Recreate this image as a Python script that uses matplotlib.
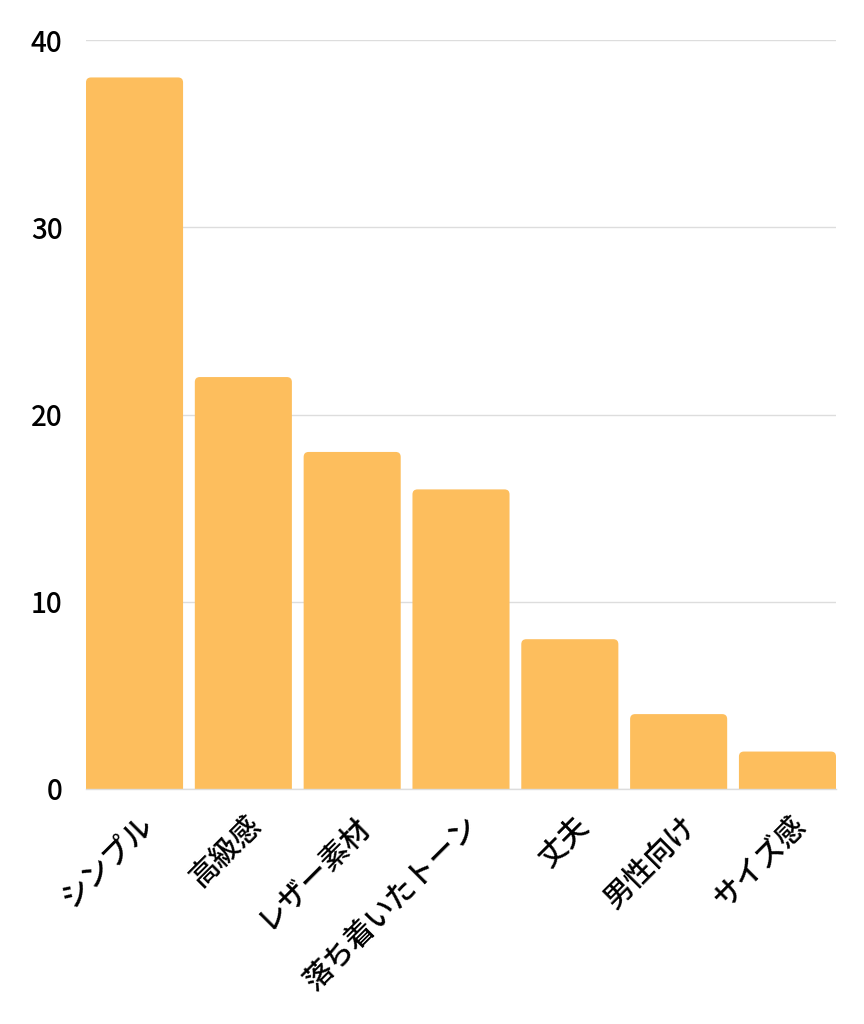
import matplotlib
matplotlib.use("Agg")
import matplotlib.pyplot as plt
import matplotlib.transforms as mtrans
from matplotlib.patches import FancyBboxPatch

plt.rcParams['font.family'] = ['Noto Sans CJK JP', 'DejaVu Sans']
plt.rcParams['font.weight'] = 'medium'

categories = ['シンプル', '高級感', 'レザー素材', '落ち着いたトーン', '丈夫', '男性向け', 'サイズ感']
values = [38, 22, 18, 16, 8, 4, 2]
yticks = [0, 10, 20, 30, 40]

bar_color = '#FDBE5D'
bar_w = 0.892

fig = plt.figure(figsize=(8.64, 10.24), dpi=100)
# plot area: x 86..836 px, y 40..789 px
ax = fig.add_axes([86 / 864, 1 - 789 / 1024, 750 / 864, 749 / 1024])

n = len(categories)
bars = ax.bar(range(n), values, width=bar_w, color='none')
ax.set_xlim(-bar_w / 2, n - 1 + bar_w / 2)
ax.set_ylim(0, 40)

# rounded tops: replace each bar with a fancy box, bottom pushed below 0 and clipped
px_x = 750 / (n - 1 + bar_w)
px_y = 749 / 40
for b in bars:
    x, w, h = b.get_x(), b.get_width(), b.get_height()
    r = 5 / px_x
    box = FancyBboxPatch((x, -1), w, h + 1,
                         boxstyle=f"round,pad=0,rounding_size={r}",
                         mutation_aspect=px_x / px_y,
                         facecolor=bar_color, edgecolor='none', zorder=2)
    ax.add_patch(box)

ax.set_yticks(yticks)
ax.set_yticklabels([str(t) for t in yticks], fontsize=20, fontweight='medium')
ax.grid(axis='y', color='#dddddd', linewidth=1, zorder=0)
ax.set_axisbelow(True)

ax.set_xticks(range(n))
ax.set_xticklabels(categories, fontsize=21, fontweight='medium', rotation=45,
                   ha='right', va='center', rotation_mode='anchor')
ax.tick_params(axis='x', length=0, pad=23)
ax.tick_params(axis='y', length=0, pad=17)
shift = mtrans.ScaledTranslation(13.5 / 100, 0, fig.dpi_scale_trans)
for lab in ax.get_xticklabels():
    lab.set_transform(lab.get_transform() + shift)

for s in ['top', 'right', 'left']:
    ax.spines[s].set_visible(False)
ax.spines['bottom'].set_color('#dddddd')
ax.spines['bottom'].set_linewidth(1)

fig.savefig('out.png', dpi=100, facecolor='white')
